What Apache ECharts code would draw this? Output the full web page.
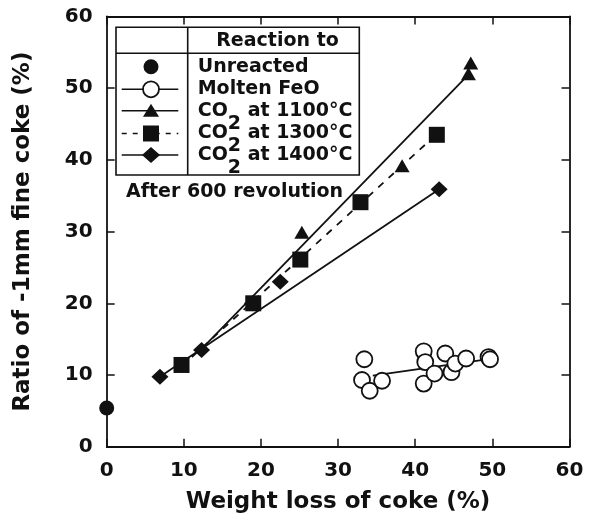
<!DOCTYPE html>
<html>
<head>
<meta charset="utf-8">
<script src="https://cdn.jsdelivr.net/npm/echarts@6/dist/echarts.min.js"></script>
<style>html,body{margin:0;padding:0;background:#fff;}#c{width:592px;height:529px;}</style>
</head>
<body>
<div id="c"></div>
<script>
// ---- data ----
const xTicks = [0, 10, 20, 30, 40, 50, 60];
const yTicks = [0, 10, 20, 30, 40, 50, 60];

const unreactedX = [0];
const unreactedY = [5.4];

const feoX = [33.4, 33.1, 34.1, 35.7, 41.1, 41.3, 41.1, 42.5, 43.9, 44.7, 45.2, 46.6, 49.5, 49.7];
const feoY = [12.2, 9.3, 7.8, 9.2, 13.3, 11.8, 8.8, 10.2, 13.0, 10.4, 11.6, 12.3, 12.5, 12.2];
const feoFitX = [34.5, 49.5];
const feoFitY = [9.9, 12.2];

const co1100X = [25.3, 38.3, 46.9, 47.2];
const co1100Y = [29.9, 39.2, 52.0, 53.5];
const co1100FitX = [12.0, 46.9];
const co1100FitY = [13.3, 51.9];

const co1300X = [9.7, 19.0, 25.1, 32.9, 42.8];
const co1300Y = [11.4, 20.0, 26.1, 34.1, 43.5];
const co1300FitX = [9.7, 42.8];
const co1300FitY = [11.2, 43.6];

const co1400X = [6.9, 12.3, 18.9, 22.5, 43.1];
const co1400Y = [9.75, 13.5, 20.0, 23.0, 35.9];
const co1400FitX = [6.9, 43.1];
const co1400FitY = [9.75, 35.9];

const legendHeader = 'Reaction to';
const legendRows = ['Unreacted', 'Molten FeO', 'CO|2| at 1100°C', 'CO|2| at 1300°C', 'CO|2| at 1400°C'];
const noteText = 'After 600 revolution';
const xTitle = 'Weight loss of coke (%)';
const yTitle = 'Ratio of -1mm fine coke (%)';

// ---- helpers ----
const zip = (a, b) => a.map((v, i) => [v, b[i]]);
const FONT = 'DejaVu Sans';
const INK = '#111';

const chart = echarts.init(document.getElementById('c'), null, {renderer: 'canvas'});

const axisCommon = {
  type: 'value', min: 0, max: 60, interval: 10,
  axisLine: {show: true, onZero: false, lineStyle: {color: INK, width: 1.8}},
  axisTick: {show: true, inside: true, length: 8, lineStyle: {color: INK, width: 1.5}},
  splitLine: {show: false}
};

// legend table geometry
const LX0 = 116, LX1 = 359.3, LY0 = 27.3, LY1 = 175, LDIV = 187.7, LHD = 53.3;
const rowY = [66.7, 89.3, 110.7, 133.5, 155];
const symX = 151, segX0 = 121.7, segX1 = 178.3, textX = 197.7;

const meas = document.createElement('canvas').getContext('2d');
meas.font = 'bold 19px "' + FONT + '"';

const g = [];
g.push({type: 'rect', shape: {x: LX0, y: LY0, width: LX1 - LX0, height: LY1 - LY0},
  style: {fill: '#fff', stroke: INK, lineWidth: 1.6}, z: 50});
g.push({type: 'line', shape: {x1: LDIV, y1: LY0, x2: LDIV, y2: LY1}, style: {stroke: INK, lineWidth: 1.6}, z: 51});
g.push({type: 'line', shape: {x1: LX0, y1: LHD, x2: LX1, y2: LHD}, style: {stroke: INK, lineWidth: 1.6}, z: 51});
g.push({type: 'text', x: (LDIV + LX1) / 2 + 4, y: 40.7, z: 52,
  style: {text: legendHeader, font: 'bold 19px "' + FONT + '"', fill: INK, align: 'center', verticalAlign: 'middle'}});

legendRows.forEach((t, i) => {
  const parts = t.split('|');
  let x = textX;
  parts.forEach((p, k) => {
    const isSub = (parts.length === 3 && k === 1);
    g.push({type: 'text', x: x, y: rowY[i] + (isSub ? 13 : 0), z: 52,
      style: {text: p, font: 'bold 19px "' + FONT + '"', fill: INK, align: 'left', verticalAlign: 'middle'}});
    x += meas.measureText(p).width;
  });
});

// legend symbols
g.push({type: 'circle', shape: {cx: symX, cy: rowY[0], r: 7.5}, style: {fill: INK}, z: 52});
[1, 2, 4].forEach(i => g.push({type: 'line', shape: {x1: segX0, y1: rowY[i], x2: segX1, y2: rowY[i]}, style: {stroke: INK, lineWidth: 1.6}, z: 52}));
g.push({type: 'line', shape: {x1: segX0, y1: rowY[3], x2: segX1, y2: rowY[3]}, style: {stroke: INK, lineWidth: 1.6, lineDash: [5, 6]}, z: 52});
g.push({type: 'circle', shape: {cx: symX, cy: rowY[1], r: 8}, style: {fill: '#fff', stroke: INK, lineWidth: 1.8}, z: 53});
g.push({type: 'polygon', shape: {points: [[symX, rowY[2] - 7], [symX + 8, rowY[2] + 6], [symX - 8, rowY[2] + 6]]}, style: {fill: INK}, z: 53});
g.push({type: 'rect', shape: {x: symX - 8, y: rowY[3] - 8, width: 16, height: 16}, style: {fill: INK}, z: 53});
g.push({type: 'polygon', shape: {points: [[symX, rowY[4] - 8], [symX + 9, rowY[4]], [symX, rowY[4] + 8], [symX - 9, rowY[4]]]}, style: {fill: INK}, z: 53});

g.push({type: 'text', x: 126, y: 191.7, z: 52,
  style: {text: noteText, font: 'bold 19px "' + FONT + '"', fill: INK, align: 'left', verticalAlign: 'middle'}});

const fitLine = (name, xs, ys, dashed) => ({
  name: name, type: 'line', data: zip(xs, ys), symbol: 'none', silent: true, z: 3,
  lineStyle: {color: INK, width: 1.8, type: dashed ? [7, 7] : 'solid'}
});
const scat = (name, xs, ys, symbol, size, filled) => ({
  name: name, type: 'scatter', data: zip(xs, ys), symbol: symbol, symbolSize: size, clip: false, z: 5,
  itemStyle: filled ? {color: INK, opacity: 1} : {color: '#fff', borderColor: INK, borderWidth: 1.8, opacity: 1}
});

chart.setOption({
  animation: false,
  backgroundColor: '#fff',
  grid: {left: 106.7, top: 16.5, right: 22.5, bottom: 82.3, containLabel: false},
  xAxis: [
    Object.assign({}, axisCommon, {
      position: 'bottom',
      name: xTitle, nameLocation: 'middle', nameGap: 44,
      nameTextStyle: {fontFamily: FONT, fontWeight: 'bold', fontSize: 23, color: INK},
      axisLabel: {show: true, margin: 14, fontFamily: FONT, fontWeight: 'bold', fontSize: 20, color: INK,
        formatter: v => String(xTicks[Math.round(v / 10)])}
    }),
    Object.assign({}, axisCommon, {position: 'top', axisLabel: {show: false}})
  ],
  yAxis: [
    Object.assign({}, axisCommon, {
      position: 'left',
      name: yTitle, nameLocation: 'middle', nameGap: 72,
      nameTextStyle: {fontFamily: FONT, fontWeight: 'bold', fontSize: 23, color: INK},
      axisLabel: {show: true, margin: 14, fontFamily: FONT, fontWeight: 'bold', fontSize: 20, color: INK,
        formatter: v => String(yTicks[Math.round(v / 10)])}
    }),
    Object.assign({}, axisCommon, {position: 'right', axisLabel: {show: false}})
  ],
  series: [
    fitLine('Molten FeO fit', feoFitX, feoFitY, false),
    fitLine('CO2 at 1100°C fit', co1100FitX, co1100FitY, false),
    fitLine('CO2 at 1300°C fit', co1300FitX, co1300FitY, true),
    fitLine('CO2 at 1400°C fit', co1400FitX, co1400FitY, false),
    scat('Unreacted', unreactedX, unreactedY, 'circle', 15, true),
    scat('Molten FeO', feoX, feoY, 'circle', 16, false),
    scat('CO2 at 1400°C', co1400X, co1400Y, 'diamond', [17, 16], true),
    scat('CO2 at 1300°C', co1300X, co1300Y, 'rect', 16, true),
    scat('CO2 at 1100°C', co1100X, co1100Y, 'triangle', [15, 13], true)
  ],
  graphic: g
});
</script>
</body>
</html>
